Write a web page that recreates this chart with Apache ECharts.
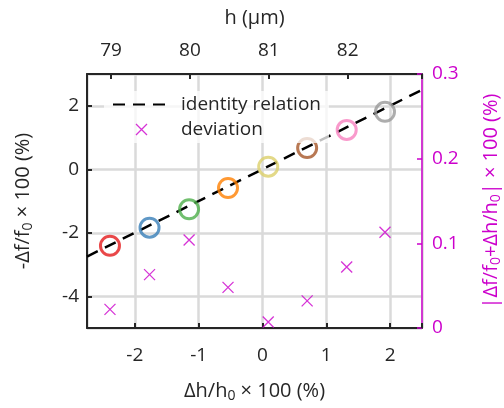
<!DOCTYPE html>
<html>
<head>
    <meta charset="utf-8">
    <title>identity relation</title>
    <script src="https://cdn.jsdelivr.net/npm/echarts@6/dist/echarts.min.js"></script>
</head>
<body style="margin:0">
    <div id="main" style="width:504px;height:408px"></div>
    <script type="text/javascript">

        // bottom axis: Δh/h0 × 100 (%)
        const X_MIN = -2.75;
        const X_MAX = 2.5;
        // left axis: -Δf/f0 × 100 (%)
        const Y_MIN = -5;
        const Y_MAX = 3;
        // right axis: deviation
        const DEV_MIN = 0;
        const DEV_MAX = 0.3;
        // reference height for the top axis (µm)
        const H0 = 80.92;

        const DH = [-2.39, -1.77, -1.15, -0.54, 0.09, 0.70, 1.32, 1.92];
        const DF = [-2.41, -1.84, -1.26, -0.59, 0.08, 0.67, 1.24, 1.81];
        const DEV = [0.022, 0.063, 0.104, 0.048, 0.007, 0.032, 0.072, 0.113];
        const IDENTITY = [X_MIN, X_MAX];

        const COLORS = ['#e41a1c', '#377eb8', '#4daf4a', '#ff7f00', '#dcd06a', '#a65628', '#f781bf', '#999999'];
        const MAG = '#cc00cc';
        const INK = '#262626';
        const FONT = 'Open Sans';

        const RICH = {
            s: {fontSize: 14, lineHeight: 10, verticalAlign: 'bottom', fontFamily: FONT}
        };

        function intLabel(v) {
            return Math.abs(v - Math.round(v)) < 1e-6 ? String(Math.round(v)) : '';
        }

        let myChart = echarts.init(document.getElementById('main'));

        let circleData = DH.map(function (x, i) {
            return {value: [x, DF[i]], itemStyle: {borderColor: COLORS[i]}};
        });
        let devData = DH.map(function (x, i) {
            return [x, DEV[i]];
        });
        let lineData = IDENTITY.map(function (v) {
            return [v, v];
        });

        let option = {
            animation: false,
            textStyle: {fontFamily: FONT},
            grid: {left: 87, right: 82, top: 74, bottom: 80, outerBoundsMode: 'none'},
            legend: {
                orient: 'vertical',
                left: 104,
                top: 91,
                itemWidth: 57,
                itemHeight: 11,
                itemGap: 6,
                padding: [4, 8, 4, 8],
                backgroundColor: 'rgba(255,255,255,0.75)',
                data: [
                    {name: 'identity relation', itemStyle: {opacity: 0}},
                    'deviation'
                ],
                itemStyle: {borderWidth: 1.3},
                textStyle: {fontSize: 19, color: INK, fontFamily: FONT, padding: [0, 0, 0, 6]}
            },
            xAxis: [
                {
                    type: 'value',
                    position: 'bottom',
                    min: X_MIN,
                    max: X_MAX,
                    name: 'Δh/h{s|0} × 100 (%)',
                    nameLocation: 'middle',
                    nameGap: 51,
                    nameTextStyle: {fontSize: 20, color: INK, lineHeight: 24, rich: RICH},
                    axisLine: {onZero: false, lineStyle: {color: INK, width: 2}},
                    axisTick: {inside: true, length: 5, lineStyle: {color: INK, width: 2}},
                    axisLabel: {fontSize: 19, color: INK, margin: 18, formatter: intLabel},
                    splitLine: {show: true, lineStyle: {color: '#dadada', width: 2.5}}
                },
                {
                    type: 'value',
                    position: 'top',
                    min: H0 * (1 + X_MIN / 100),
                    max: H0 * (1 + X_MAX / 100),
                    splitNumber: 4,
                    name: 'h (µm)',
                    nameLocation: 'middle',
                    nameGap: 46,
                    nameTextStyle: {fontSize: 20, color: INK},
                    axisLine: {onZero: false, lineStyle: {color: INK, width: 2}},
                    axisTick: {inside: true, length: 5, lineStyle: {color: INK, width: 2}},
                    axisLabel: {fontSize: 19, color: INK, margin: 14, formatter: intLabel},
                    splitLine: {show: false}
                }
            ],
            yAxis: [
                {
                    type: 'value',
                    position: 'left',
                    min: Y_MIN,
                    max: Y_MAX,
                    splitNumber: 4,
                    name: '-Δf/f{s|0} × 100 (%)',
                    nameLocation: 'middle',
                    nameRotate: 90,
                    nameGap: 52,
                    nameTextStyle: {fontSize: 20, color: INK, lineHeight: 24, rich: RICH},
                    axisLine: {show: true, onZero: false, lineStyle: {color: INK, width: 2}},
                    axisTick: {show: true, inside: true, length: 5, lineStyle: {color: INK, width: 2}},
                    axisLabel: {fontSize: 19, color: INK, margin: 8, showMinLabel: false, showMaxLabel: false},
                    splitLine: {show: true, lineStyle: {color: '#dadada', width: 2.5}}
                },
                {
                    type: 'value',
                    position: 'right',
                    min: DEV_MIN,
                    max: DEV_MAX,
                    interval: 0.1,
                    name: '|Δf/f{s|0}+Δh/h{s|0}| × 100 (%)',
                    nameLocation: 'middle',
                    nameRotate: 90,
                    nameGap: 57,
                    nameTextStyle: {fontSize: 20, color: MAG, lineHeight: 24, rich: RICH},
                    axisLine: {show: true, onZero: false, lineStyle: {color: MAG, width: 1.5}},
                    axisTick: {show: true, inside: true, length: 5, lineStyle: {color: MAG, width: 1.5}},
                    axisLabel: {fontSize: 19, color: MAG, margin: 10},
                    splitLine: {show: false}
                }
            ],
            series: [
                {
                    name: 'identity relation',
                    type: 'line',
                    data: lineData,
                    symbol: 'none',
                    color: '#000',
                    z: 2,
                    lineStyle: {color: '#000', width: 2.5, type: [12, 8]}
                },
                {
                    name: 'points',
                    type: 'scatter',
                    data: circleData,
                    symbol: 'circle',
                    symbolSize: 19,
                    z: 3,
                    itemStyle: {color: 'rgba(0,0,0,0)', borderWidth: 3}
                },
                {
                    name: 'deviation',
                    type: 'scatter',
                    yAxisIndex: 1,
                    data: devData,
                    symbol: 'path://M0,0L10,10M10,0L0,10',
                    symbolSize: 11,
                    z: 3,
                    itemStyle: {color: 'rgba(0,0,0,0)', borderColor: MAG, borderWidth: 1.3}
                }
            ]
        };

        myChart.setOption(option);

    </script>
</body>
</html>
